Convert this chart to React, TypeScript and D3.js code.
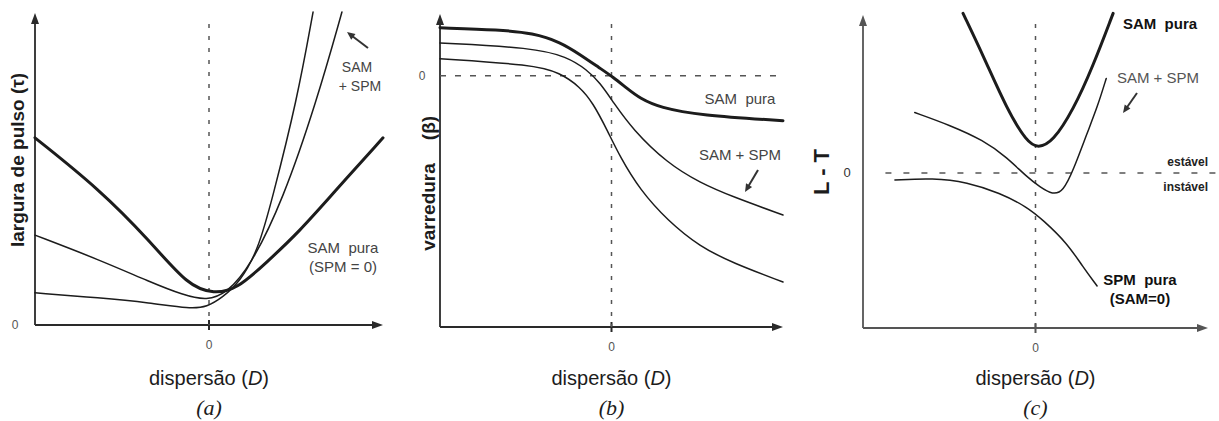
import { useEffect, useRef } from "react";
import * as d3 from "d3";

type Pt = [number, number];

// (a) largura de pulso (tau) vs dispersao (D)
const aSamPura: Pt[] = [[-1, 0.6], [-0.63, 0.435], [-0.34, 0.27], [-0.12, 0.125], [0.03, 0.1], [0.16, 0.115], [0.33, 0.2], [0.52, 0.3], [0.71, 0.42], [1, 0.6]];
const aSamSpm1: Pt[] = [[-1, 0.288], [-0.626, 0.208], [-0.339, 0.138], [-0.149, 0.096], [-0.011, 0.078], [0.103, 0.103], [0.236, 0.186], [0.425, 0.4], [0.621, 0.721], [0.764, 1.003]];
const aSamSpm2: Pt[] = [[-1, 0.103], [-0.626, 0.087], [-0.339, 0.071], [-0.109, 0.052], [-0.011, 0.058], [0.075, 0.087], [0.178, 0.138], [0.282, 0.24], [0.362, 0.401], [0.506, 0.721], [0.598, 1.003]];

// (b) varredura (beta) vs dispersao
const bSamPura: Pt[] = [[-1, 0.191], [-0.65, 0.183], [-0.458, 0.17], [-0.3, 0.135], [-0.184, 0.085], [-0.067, 0.03], [0.009, -0.005], [0.09, -0.05], [0.166, -0.09], [0.283, -0.127], [0.516, -0.157], [1, -0.179]];
const bSamSpm1: Pt[] = [[-1, 0.131], [-0.458, 0.112], [-0.26, 0.076], [-0.143, 0.024], [-0.067, -0.028], [0.009, -0.104], [0.125, -0.215], [0.324, -0.347], [0.516, -0.426], [0.708, -0.482], [1, -0.554]];
const bSamSpm2: Pt[] = [[-1, 0.068], [-0.458, 0.044], [-0.3, 0.012], [-0.184, -0.044], [-0.108, -0.108], [-0.026, -0.215], [0.05, -0.323], [0.166, -0.454], [0.324, -0.574], [0.516, -0.681], [0.708, -0.745], [1, -0.821]];

// (c) L - T vs dispersao
const cSamPura: Pt[] = [[-0.42, 1.03], [-0.3, 0.75], [-0.165, 0.41], [-0.05, 0.2], [0.015, 0.16], [0.1, 0.2], [0.22, 0.41], [0.33, 0.68], [0.45, 1.03]];
const cSamSpm: Pt[] = [[-0.7, 0.39], [-0.5, 0.31], [-0.3, 0.21], [-0.165, 0.1], [-0.05, -0.026], [0.026, -0.09], [0.1, -0.14], [0.16, -0.12], [0.22, 0.02], [0.3, 0.26], [0.36, 0.43], [0.41, 0.61]];
const cSpmPura: Pt[] = [[-0.815, -0.045], [-0.594, -0.032], [-0.397, -0.058], [-0.206, -0.129], [-0.049, -0.219], [0.043, -0.303], [0.183, -0.452], [0.275, -0.606], [0.357, -0.729]];

const sans = "'Liberation Sans', Arial, sans-serif";
const serif = "'Liberation Serif', 'Times New Roman', serif";
const ink = "#1c1c1c";

type Sel = d3.Selection<SVGGElement, unknown, null, undefined>;

function arrow(g: Sel, x1: number, y1: number, x2: number, y2: number, color = "#333") {
  const a = Math.atan2(y2 - y1, x2 - x1);
  const L = 8, W = 3.5;
  g.append("line").attr("x1", x1).attr("y1", y1).attr("x2", x2 - Math.cos(a) * 4).attr("y2", y2 - Math.sin(a) * 4)
    .attr("stroke", color).attr("stroke-width", 2);
  const bx = x2 - Math.cos(a) * L, by = y2 - Math.sin(a) * L;
  g.append("path")
    .attr("d", `M${x2},${y2}L${bx - Math.sin(a) * W},${by + Math.cos(a) * W}L${bx + Math.sin(a) * W},${by - Math.cos(a) * W}Z`)
    .attr("fill", color);
}

function text(g: Sel, x: number, y: number, s: string, size: number, opts: { fill?: string, weight?: string, anchor?: string, rotate?: boolean, family?: string, italic?: boolean } = {}) {
  const t = g.append("text")
    .attr("x", x).attr("y", y)
    .attr("font-family", opts.family ?? sans)
    .attr("font-size", size)
    .attr("font-weight", opts.weight ?? "normal")
    .attr("font-style", opts.italic ? "italic" : "normal")
    .attr("fill", opts.fill ?? ink)
    .attr("text-anchor", opts.anchor ?? "middle")
    .style("white-space", "pre")
    .text(s);
  if (opts.rotate) t.attr("dominant-baseline", "central").attr("transform", `rotate(-90,${x},${y})`);
  return t;
}

function frame(g: Sel, x: d3.ScaleLinear<number, number>, yBottom: number, yTop: number, axisColor: string) {
  const [x0, x1] = x.range();
  g.append("line").attr("x1", x0).attr("x2", x0).attr("y1", yBottom).attr("y2", yTop + 6)
    .attr("stroke", axisColor).attr("stroke-width", 1.8);
  g.append("line").attr("x1", x0).attr("x2", x1 - 6).attr("y1", yBottom).attr("y2", yBottom)
    .attr("stroke", axisColor).attr("stroke-width", 1.8);
  g.append("path").attr("d", `M${x0 - 4},${yTop + 11}L${x0},${yTop}L${x0 + 4},${yTop + 11}Z`).attr("fill", axisColor);
  g.append("path").attr("d", `M${x1 - 11},${yBottom - 4}L${x1},${yBottom}L${x1 - 11},${yBottom + 4}Z`).attr("fill", axisColor);
  // zero marker on the D axis
  g.append("line").attr("x1", x(0)).attr("x2", x(0)).attr("y1", yBottom - 5).attr("y2", yBottom + 5)
    .attr("stroke", axisColor).attr("stroke-width", 2);
  g.append("line").attr("x1", x(0)).attr("x2", x(0)).attr("y1", 24).attr("y2", yBottom)
    .attr("stroke", "#555").attr("stroke-width", 1.5).attr("stroke-dasharray", "4 8");
  text(g, x(0), yBottom + 24, "0", 12, { fill: "#555" });
  const lbl = text(g, x(0), 385, "dispers\u00e3o (", 20);
  lbl.append("tspan").attr("font-style", "italic").text("D");
  lbl.append("tspan").text(")");
}

function curves(g: Sel, x: d3.ScaleLinear<number, number>, y: d3.ScaleLinear<number, number>, list: [Pt[], number][]) {
  const line = d3.line<Pt>().x(d => x(d[0])).y(d => y(d[1])).curve(d3.curveBasis);
  list.forEach(([data, w]) => {
    g.append("path").attr("d", line(data) ?? "").attr("fill", "none")
      .attr("stroke", ink).attr("stroke-width", w).attr("stroke-linecap", "round");
  });
}

export default function App() {
  const ref = useRef<SVGSVGElement | null>(null);

  useEffect(() => {
    const svg = d3.select(ref.current);
    svg.selectAll("*").remove();
    const root = svg.append("g") as unknown as Sel;

    // ---- (a)
    const ax = d3.scaleLinear().domain([-1, 1]).range([35, 383]);
    const ay = d3.scaleLinear().domain([0, 1]).range([325, 13]);
    const ga = root.append("g");
    frame(ga, ax, ay(0), 13, "#2a2a2a");
    curves(ga, ax, ay, [[aSamPura, 3], [aSamSpm1, 1.5], [aSamSpm2, 1.5]]);
    text(ga, 15, ay(0) + 4, "0", 12, { fill: "#555" });
    text(ga, 17, 160, "largura de pulso (\u03c4)", 19, { weight: "bold", rotate: true });
    text(ga, 357, 72, "SAM", 14, { fill: "#444" });
    text(ga, 360, 91, "+ SPM", 14, { fill: "#444" });
    arrow(ga, 368, 48, 347, 32, "#333");
    text(ga, 343, 253, "SAM  pura", 15, { fill: "#444" });
    text(ga, 343, 272, "(SPM = 0)", 15, { fill: "#444" });
    text(ga, ax(0), 415, "(a)", 22, { family: serif, italic: true });

    // ---- (b)
    const bx = d3.scaleLinear().domain([-1, 1]).range([440, 783]);
    const by = d3.scaleLinear().domain([-1, 0.25]).range([327, 13]);
    const gb = root.append("g");
    frame(gb, bx, by(-1), 14, "#2a2a2a");
    gb.append("line").attr("x1", bx(-1)).attr("x2", bx(1)).attr("y1", by(0)).attr("y2", by(0))
      .attr("stroke", "#555").attr("stroke-width", 1.5).attr("stroke-dasharray", "6 9");
    curves(gb, bx, by, [[bSamPura, 3], [bSamSpm1, 1.5], [bSamSpm2, 1.5]]);
    text(gb, 422, by(0) + 4, "0", 12, { fill: "#555" });
    text(gb, 428, 207, "varredura", 19, { weight: "bold", rotate: true });
    text(gb, 428, 128, "(\u03b2)", 19, { weight: "bold", rotate: true });
    text(gb, 740, 104, "SAM  pura", 15, { fill: "#444" });
    text(gb, 740, 160, "SAM + SPM", 15, { fill: "#444" });
    arrow(gb, 758, 170, 745, 192, "#333");
    text(gb, bx(0), 415, "(b)", 22, { family: serif, italic: true });

    // ---- (c)
    const cx = d3.scaleLinear().domain([-1, 1]).range([863, 1208]);
    const cy = d3.scaleLinear().domain([-1, 1]).range([328, 18]);
    const gc = root.append("g");
    frame(gc, cx, cy(-1), 15, "#555");
    gc.append("line").attr("x1", cx(-0.87)).attr("x2", 1219).attr("y1", cy(0)).attr("y2", cy(0))
      .attr("stroke", "#555").attr("stroke-width", 1.5).attr("stroke-dasharray", "6 12");
    curves(gc, cx, cy, [[cSamPura, 3], [cSamSpm, 1.5], [cSpmPura, 1.5]]);
    text(gc, 847, cy(0) + 4, "0", 13, { fill: "#333" });
    text(gc, 821, 172, "L - T", 22, { weight: "bold", rotate: true });
    text(gc, 1208, 166, "est\u00e1vel", 12, { weight: "bold", anchor: "end", fill: "#222" });
    text(gc, 1208, 191, "inst\u00e1vel", 12, { weight: "bold", anchor: "end", fill: "#222" });
    text(gc, 1160, 29, "SAM  pura", 15, { weight: "bold", fill: "#111" });
    text(gc, 1158, 83, "SAM + SPM", 15, { fill: "#555" });
    arrow(gc, 1137, 93, 1123, 113, "#333");
    text(gc, 1140, 285, "SPM  pura", 15, { weight: "bold", fill: "#111" });
    text(gc, 1140, 304, "(SAM=0)", 15, { weight: "bold", fill: "#111" });
    text(gc, cx(0), 415, "(c)", 22, { family: serif, italic: true });
  }, []);

  return (
    <svg ref={ref} width={1219} height={421}
      style={{ position: "absolute", left: 0, top: 0, background: "#fff" }} />
  );
}
